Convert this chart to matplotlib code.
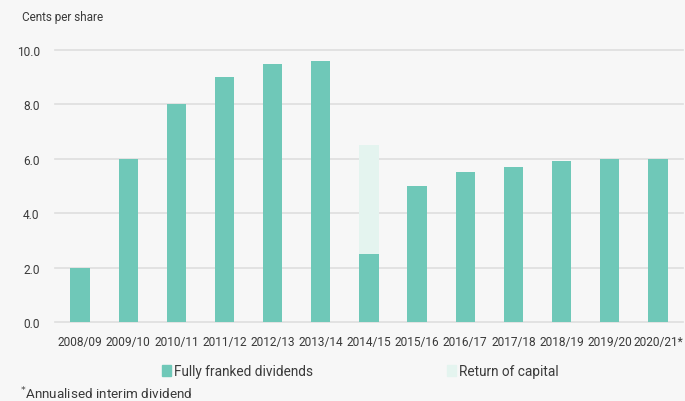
import matplotlib
matplotlib.use("Agg")
import matplotlib.pyplot as plt
from matplotlib.patches import Patch

categories = ["2008/09", "2009/10", "2010/11", "2011/12", "2012/13", "2013/14",
              "2014/15", "2015/16", "2016/17", "2017/18", "2018/19", "2019/20", "2020/21*"]
fully_franked = [2.0, 6.0, 8.0, 9.0, 9.5, 9.6, 2.5, 5.0, 5.5, 5.7, 5.9, 6.0, 6.0]
return_of_capital = [0, 0, 0, 0, 0, 0, 4.0, 0, 0, 0, 0, 0, 0]
yticks = [0, 2, 4, 6, 8, 10]

BG = "#f7f7f7"
C1 = "#6fc8b8"
C2 = "#e4f4ef"
TXT = "#3a3a3a"
plt.rcParams['font.family'] = ['Roboto', 'DejaVu Sans']

fig = plt.figure(figsize=(6.85, 4.02), dpi=100, facecolor=BG)
ax = fig.add_axes([0.0803, 0.1965, 0.9167, 0.6768], facecolor=BG)

x = list(range(len(categories)))
ax.bar(x, fully_franked, width=0.40, color=C1, zorder=3)
ax.bar(x, return_of_capital, width=0.40, bottom=fully_franked, color=C2, zorder=3)

ax.set_xlim(-0.52, 12.52)
ax.set_ylim(0, 10)
ax.set_yticks(yticks)
ax.set_yticklabels([f"{v:.1f}" for v in yticks])
ax.set_xticks(x)
ax.set_xticklabels(categories)
ax.tick_params(axis='both', length=0, labelsize=8.6, colors=TXT)
ax.tick_params(axis='y', pad=11)
ax.tick_params(axis='x', pad=9)
for s in ax.spines.values():
    s.set_visible(False)
for v in yticks:
    ax.axhline(v, color="#dedede", lw=1.2, zorder=1, clip_on=False)

fig.text(22/685, 1-17/402, "Cents per share", fontsize=8.5, color=TXT, va='center', ha='left')

handles = [Patch(color=C1, label="Fully franked dividends"),
           Patch(color=C2, label="Return of capital")]
fig.legend(handles=handles, loc='center', bbox_to_anchor=(0.526, 1-372/402), ncol=2,
           frameon=False, fontsize=9.8, handlelength=0.68, handleheight=0.85,
           handletextpad=0.22, columnspacing=9.8, labelcolor=TXT)

fig.text(20/685, 1-394/402, r"$^{*}$Annualised interim dividend", fontsize=9.7, color=TXT,
         va='center', ha='left')

fig.savefig("out.png", dpi=100, facecolor=BG)
